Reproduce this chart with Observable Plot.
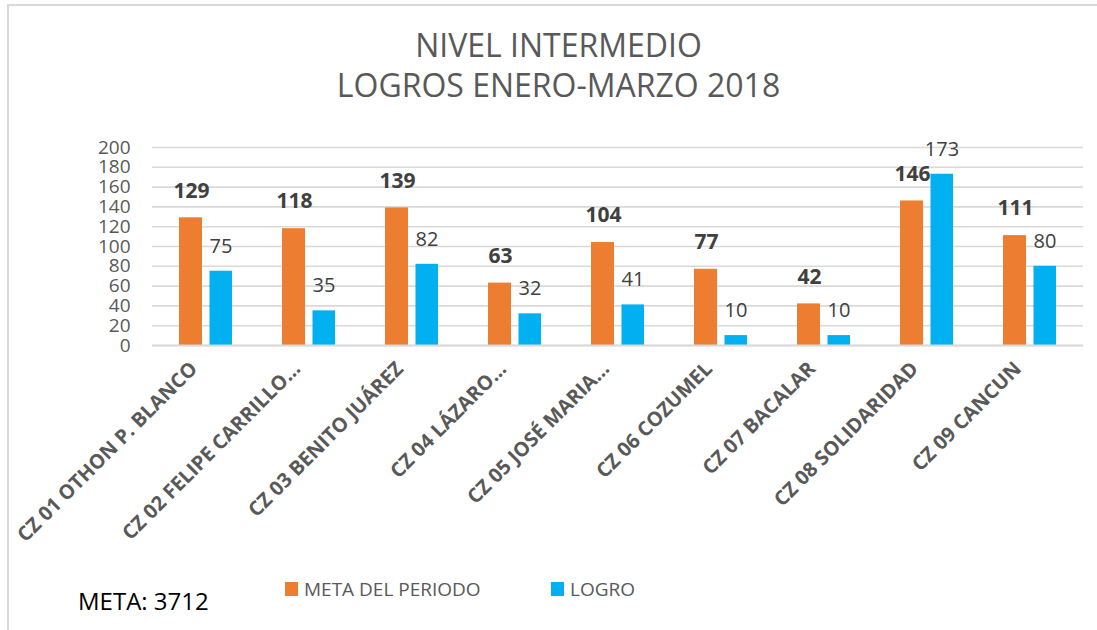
<!DOCTYPE html>
<html>
<head>
<meta charset="utf-8">
<script src="https://cdn.jsdelivr.net/npm/d3@7"></script>
<script src="https://cdn.jsdelivr.net/npm/@observablehq/plot@0.6"></script>
<style>
  html, body { margin: 0; padding: 0; background: #fff; overflow: hidden; }
  #wrap { position: relative; width: 1097px; height: 630px; overflow: hidden; font-family: "Open Sans", sans-serif; }
  #border { position: absolute; left: 7px; top: 4px; width: 1200px; height: 800px; border: 2px solid #d9d9d9; box-sizing: border-box; }
  .title { position: absolute; left: 0; width: 1117px; text-align: center; font-size: 32px; color: #595959; line-height: 40px; }
  #chart { position: absolute; left: 0; top: 0; }
  .leg { position: absolute; top: 576px; font-size: 19px; color: #595959; line-height: 26px; display: flex; align-items: center; }
  .sw { width: 13px; height: 14px; display: inline-block; margin-right: 6px; }
  #meta { position: absolute; left: 78px; top: 585px; font-size: 24px; color: #000; line-height: 32px; }
</style>
</head>
<body>
<div id="wrap">
  <div id="border"></div>
  <div class="title" style="top:25px">NIVEL INTERMEDIO</div>
  <div class="title" style="top:65px">LOGROS ENERO-MARZO 2018</div>
  <div id="chart"></div>
  <div class="leg" style="left:285px"><span class="sw" style="background:#ED7D31"></span>META DEL PERIODO</div>
  <div class="leg" style="left:551px"><span class="sw" style="background:#00B0F0"></span>LOGRO</div>
  <div id="meta">META: 3712</div>
</div>
<script>
const categories = [
  "CZ 01 OTHON P. BLANCO",
  "CZ 02 FELIPE CARRILLO…",
  "CZ 03 BENITO JUÁREZ",
  "CZ 04 LÁZARO…",
  "CZ 05 JOSÉ MARIA…",
  "CZ 06 COZUMEL",
  "CZ 07 BACALAR",
  "CZ 08 SOLIDARIDAD",
  "CZ 09 CANCUN"
];
const metaPeriodo = [129, 118, 139, 63, 104, 77, 42, 146, 111];
const logro = [75, 35, 82, 32, 41, 10, 10, 173, 80];
const yTicks = [0, 20, 40, 60, 80, 100, 120, 140, 160, 180, 200];

const rows = categories.map((c, i) => ({cat: c, meta: metaPeriodo[i], logro: logro[i]}));

const chart = Plot.plot({
  width: 1097,
  height: 580,
  marginTop: 147,
  marginBottom: 235,
  marginLeft: 152,
  marginRight: 14,
  style: {fontFamily: "Open Sans, sans-serif", background: "transparent"},
  x: {domain: categories, padding: 0, label: null},
  y: {domain: [0, 200], label: null},
  marks: [
    Plot.gridY(yTicks, {stroke: "#d9d9d9", strokeWidth: 1.6, strokeOpacity: 1}),
    Plot.barY(rows, {x: "cat", y: "meta", fill: "#ED7D31", insetLeft: 25, insetRight: 55}),
    Plot.barY(rows, {x: "cat", y: "logro", fill: "#00B0F0", insetLeft: 55.5, insetRight: 25}),
    Plot.ruleY([0], {stroke: "#d9d9d9", strokeWidth: 2}),
    Plot.text(rows, {x: "cat", y: "meta", text: d => String(d.meta), dx: -14.5, dy: -27, fontSize: 21, fontWeight: "bold", fill: "#404040"}),
    Plot.text(rows, {x: "cat", y: "logro", text: d => String(d.logro), dx: 15, dy: -25, fontSize: 20, fill: "#404040"}),
    Plot.axisY({ticks: yTicks, tickSize: 0, tickPadding: 22, fontSize: 19, color: "#595959", label: null}),
    Plot.axisX({tickRotate: -45, tickSize: 0, tickPadding: 20, dx: -12, fontSize: 20, fontWeight: "bold", color: "#595959", label: null})
  ]
});
document.getElementById("chart").appendChild(chart);
</script>
</body>
</html>
